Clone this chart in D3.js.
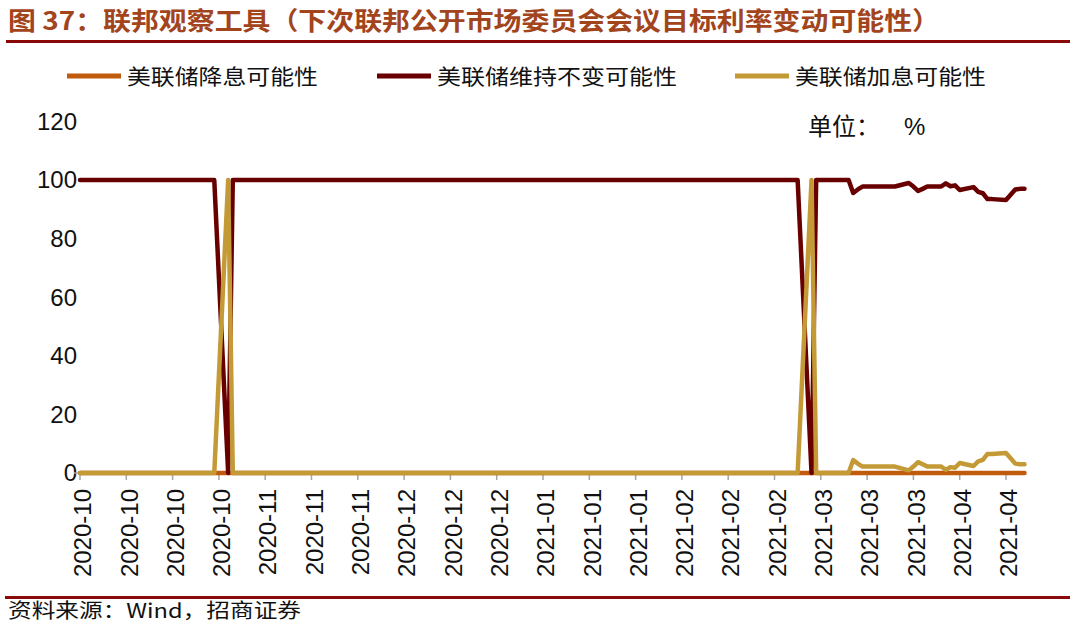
<!DOCTYPE html>
<html>
<head>
<meta charset="utf-8">
<script src="https://cdn.jsdelivr.net/npm/d3@7"></script>
<style>
  html, body { margin: 0; padding: 0; background: #ffffff; }
  svg { display: block; }
</style>
</head>
<body>
<svg id="chart" width="1080" height="625"></svg>
<script>
// ---------------- DATA ----------------
const titleText = "图 37：联邦观察工具（下次联邦公开市场委员会会议目标利率变动可能性）";
const sourceText = "资料来源：Wind，招商证券";
const unitLabel = "单位：";
const unitSymbol = "%";
const seriesNames = ["美联储降息可能性", "美联储维持不变可能性", "美联储加息可能性"];

const dates = [
  // 2020-10
  "2020-10-01","2020-10-02","2020-10-05","2020-10-06","2020-10-07","2020-10-08","2020-10-09","2020-10-12","2020-10-13","2020-10-14","2020-10-15",
  "2020-10-16","2020-10-19","2020-10-20","2020-10-21","2020-10-22","2020-10-23","2020-10-26","2020-10-27","2020-10-28","2020-10-29","2020-10-30",
  // 2020-11
  "2020-11-02","2020-11-03","2020-11-04","2020-11-05","2020-11-06","2020-11-09","2020-11-10","2020-11-11","2020-11-12","2020-11-13","2020-11-16",
  "2020-11-17","2020-11-18","2020-11-19","2020-11-20","2020-11-23","2020-11-24","2020-11-25","2020-11-26","2020-11-27","2020-11-30",
  // 2020-12
  "2020-12-01","2020-12-02","2020-12-03","2020-12-04","2020-12-07","2020-12-08","2020-12-09","2020-12-10","2020-12-11","2020-12-14","2020-12-15",
  "2020-12-16","2020-12-17","2020-12-18","2020-12-21","2020-12-22","2020-12-23","2020-12-24","2020-12-25","2020-12-28","2020-12-29","2020-12-30","2020-12-31",
  // 2021-01
  "2021-01-01","2021-01-04","2021-01-05","2021-01-06","2021-01-07","2021-01-08","2021-01-11","2021-01-12","2021-01-13","2021-01-14","2021-01-15",
  "2021-01-18","2021-01-19","2021-01-20","2021-01-21","2021-01-22","2021-01-25","2021-01-26","2021-01-27","2021-01-28","2021-01-29",
  // 2021-02
  "2021-02-01","2021-02-02","2021-02-03","2021-02-04","2021-02-05","2021-02-08","2021-02-09","2021-02-10","2021-02-11","2021-02-12",
  "2021-02-15","2021-02-16","2021-02-17","2021-02-18","2021-02-19","2021-02-22","2021-02-23","2021-02-24","2021-02-25","2021-02-26",
  // 2021-03
  "2021-03-01","2021-03-02","2021-03-03","2021-03-04","2021-03-05","2021-03-08","2021-03-09","2021-03-10","2021-03-11","2021-03-12","2021-03-15",
  "2021-03-16","2021-03-17","2021-03-18","2021-03-19","2021-03-22","2021-03-23","2021-03-24","2021-03-25","2021-03-26","2021-03-29","2021-03-30","2021-03-31",
  // 2021-04
  "2021-04-01","2021-04-02","2021-04-05","2021-04-06","2021-04-07","2021-04-08","2021-04-09","2021-04-12","2021-04-13","2021-04-14","2021-04-15",
  "2021-04-16","2021-04-19","2021-04-20","2021-04-21","2021-04-22","2021-04-23"
];

// 美联储降息可能性 (%)
const cutProb = [
  0,0,0,0,0,0,0,0,0,0,0,0,0,0,0,0,0,0,0,0,0,0,
  0,0,0,0,0,0,0,0,0,0,0,0,0,0,0,0,0,0,0,0,0,
  0,0,0,0,0,0,0,0,0,0,0,0,0,0,0,0,0,0,0,0,0,0,0,
  0,0,0,0,0,0,0,0,0,0,0,0,0,0,0,0,0,0,0,0,0,
  0,0,0,0,0,0,0,0,0,0,0,0,0,0,0,0,0,0,0,0,
  0,0,0,0,0,0,0,0,0,0,0,0,0,0,0,0,0,0,0,0,0,0,0,
  0,0,0,0,0,0,0,0,0,0,0,0,0,0,0,0,0
];

// 美联储维持不变可能性 (%)
const holdProb = [
  100,100,100,100,100,100,100,100,100,100,100,100,100,100,100,100,100,100,100,100,100,100,
  0,100,100,100,100,100,100,100,100,100,100,100,100,100,100,100,100,100,100,100,100,
  100,100,100,100,100,100,100,100,100,100,100,100,100,100,100,100,100,100,100,100,100,100,100,
  100,100,100,100,100,100,100,100,100,100,100,100,100,100,100,100,100,100,100,100,100,
  100,100,100,100,100,100,100,100,100,100,100,100,100,100,100,100,100,100,100,100,
  100,100,100,100,100,0,100,100,100,100,100,100,95.6,96.8,97.8,97.8,97.8,97.8,97.8,97.8,99.0,97.8,96.3,
  97.0,97.8,97.8,98.9,97.9,98.2,96.6,97.6,96.0,95.5,93.5,93.5,93.2,95.0,96.8,97.0,97.0
];

// 美联储加息可能性 (%)
const hikeProb = [
  0,0,0,0,0,0,0,0,0,0,0,0,0,0,0,0,0,0,0,0,0,0,
  100,0,0,0,0,0,0,0,0,0,0,0,0,0,0,0,0,0,0,0,0,
  0,0,0,0,0,0,0,0,0,0,0,0,0,0,0,0,0,0,0,0,0,0,0,
  0,0,0,0,0,0,0,0,0,0,0,0,0,0,0,0,0,0,0,0,0,
  0,0,0,0,0,0,0,0,0,0,0,0,0,0,0,0,0,0,0,0,
  0,0,0,0,0,100,0,0,0,0,0,0,4.4,3.2,2.2,2.2,2.2,2.2,2.2,2.2,0.9,2.2,3.7,
  3.0,2.2,2.2,1.1,2.0,1.8,3.4,2.4,4.0,4.5,6.5,6.5,6.8,5.0,3.2,3.0,3.0
];

const tickDates = [
  "2020-10-01","2020-10-11","2020-10-21","2020-10-31","2020-11-10","2020-11-20","2020-11-30",
  "2020-12-10","2020-12-20","2020-12-30","2021-01-09","2021-01-19","2021-01-29","2021-02-08",
  "2021-02-18","2021-02-28","2021-03-10","2021-03-20","2021-03-30","2021-04-09","2021-04-19"
];
const yTicks = [0, 20, 40, 60, 80, 100, 120];

// ---------------- STYLE ----------------
const colors = ["#C05A0C", "#680000", "#C49A37"];
const titleColor = "#A2441C";
const ruleColor = "#8A0A0A";
const latin = "'Liberation Sans', Arial, sans-serif";
const cjk = "'Noto Sans CJK SC', 'Noto Sans', sans-serif";

// ---------------- DRAW ----------------
const svg = d3.select("#chart");
const parse = d3.utcParse("%Y-%m-%d");
const fmt = d3.utcFormat("%Y-%m");

const x = d3.scaleUtc()
  .domain([parse("2020-10-01"), parse("2021-04-19")])
  .range([80, 1006]);
const y = d3.scaleLinear().domain([0, 120]).range([473, 121.5]);

// Title
svg.append("text")
  .attr("x", 8).attr("y", 30)
  .attr("font-family", cjk).attr("font-weight", "bold")
  .attr("font-size", 25).attr("fill", titleColor)
  .attr("textLength", 932).attr("lengthAdjust", "spacingAndGlyphs")
  .text(titleText);
svg.append("line")
  .attr("x1", 6).attr("x2", 1070).attr("y1", 41.5).attr("y2", 41.5)
  .attr("stroke", ruleColor).attr("stroke-width", 3);

// Legend
const legendItems = [
  { lx: 67, tx: 127, tw: 191 },
  { lx: 377, tx: 437, tw: 240 },
  { lx: 735, tx: 795, tw: 191 }
];
legendItems.forEach((it, i) => {
  svg.append("line")
    .attr("x1", it.lx).attr("x2", it.lx + 54)
    .attr("y1", 76).attr("y2", 76)
    .attr("stroke", colors[i]).attr("stroke-width", 5);
  svg.append("text")
    .attr("x", it.tx).attr("y", 84)
    .attr("font-family", cjk).attr("font-size", 21).attr("fill", "#111")
    .attr("textLength", it.tw).attr("lengthAdjust", "spacingAndGlyphs")
    .text(seriesNames[i]);
});

// Unit label
const unit = svg.append("text")
  .attr("y", 135)
  .attr("font-family", cjk).attr("font-size", 24).attr("fill", "#111");
unit.append("tspan").attr("x", 808).text(unitLabel);
unit.append("tspan").attr("x", 904).attr("font-family", latin).text(unitSymbol);

// Y axis labels
svg.append("g").selectAll("text").data(yTicks).join("text")
  .attr("x", 77).attr("y", d => y(d))
  .attr("dy", "0.35em")
  .attr("text-anchor", "end")
  .attr("font-family", latin).attr("font-size", 24).attr("fill", "#111")
  .text(d => d);

// X axis line and ticks
const xEnd = x(parse(dates[dates.length - 1]));
svg.append("line")
  .attr("x1", 74).attr("x2", xEnd).attr("y1", 473).attr("y2", 473)
  .attr("stroke", "#A6A6A6").attr("stroke-width", 1.5);
const tickG = svg.append("g");
tickG.selectAll("line").data(tickDates).join("line")
  .attr("x1", d => x(parse(d))).attr("x2", d => x(parse(d)))
  .attr("y1", 473).attr("y2", 480)
  .attr("stroke", "#A6A6A6").attr("stroke-width", 1.5);
tickG.selectAll("text").data(tickDates).join("text")
  .attr("transform", d => `translate(${x(parse(d))},489) rotate(-90)`)
  .attr("dy", "0.47em")
  .attr("text-anchor", "end")
  .attr("font-family", latin).attr("font-size", 24).attr("fill", "#111")
  .text(d => fmt(parse(d)));

// Lines
const allSeries = [cutProb, holdProb, hikeProb];
const line = d3.line()
  .x((d, i) => x(parse(dates[i])))
  .y(d => y(d));
allSeries.forEach((vals, i) => {
  svg.append("path")
    .datum(vals)
    .attr("d", line)
    .attr("fill", "none")
    .attr("stroke", colors[i])
    .attr("stroke-width", 4.5)
    .attr("stroke-linejoin", "round")
    .attr("stroke-linecap", "round");
});

// Footer
svg.append("line")
  .attr("x1", 5).attr("x2", 1070).attr("y1", 597.5).attr("y2", 597.5)
  .attr("stroke", ruleColor).attr("stroke-width", 3);
svg.append("text")
  .attr("x", 8).attr("y", 618)
  .attr("font-family", cjk).attr("font-size", 20).attr("fill", "#111")
  .attr("textLength", 293).attr("lengthAdjust", "spacingAndGlyphs")
  .text(sourceText);
</script>
</body>
</html>
